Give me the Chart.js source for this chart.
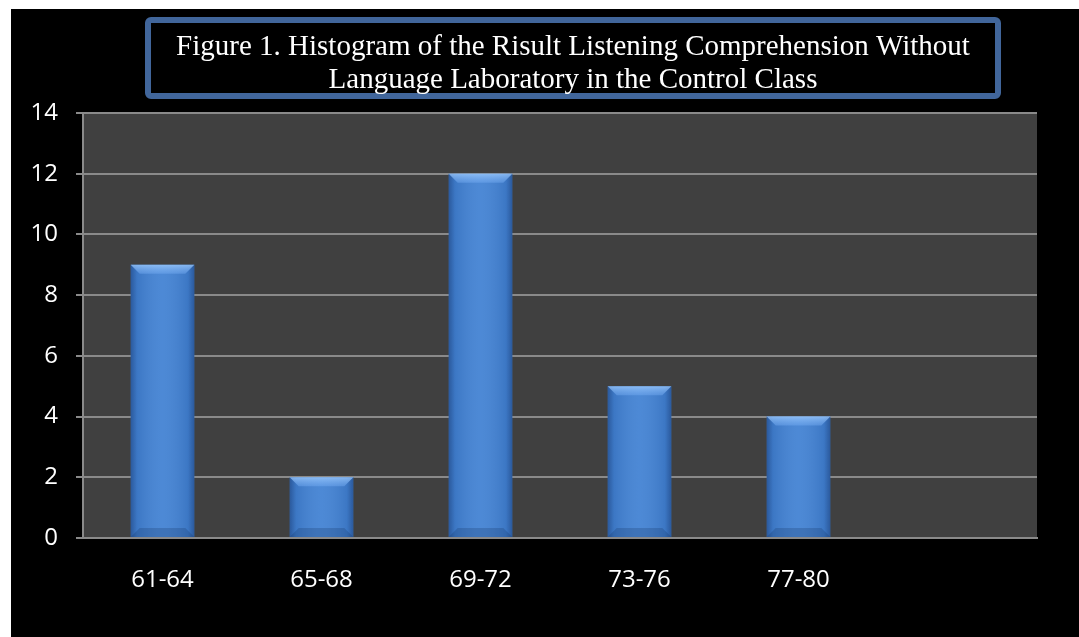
<!DOCTYPE html>
<html>
<head>
<meta charset="utf-8">
<script src="https://cdn.jsdelivr.net/npm/chart.js@4.4.1/dist/chart.umd.min.js"></script>
<style>
  html, body { margin: 0; padding: 0; background: #fff; }
  #wrap { position: absolute; left: 11px; top: 9px; width: 1068px; height: 628px; background: #000; }
</style>
</head>
<body>
<div id="wrap"><canvas id="histChart" width="1068" height="628"></canvas></div>
<script>
const titleLines = [
    'Figure 1. Histogram of the Risult Listening Comprehension Without',
    'Language Laboratory in the Control Class'
];
const scoreRanges = ['61-64', '65-68', '69-72', '73-76', '77-80', ''];
const studentCounts = [9, 2, 12, 5, 4, null];
const yTicks = [0, 2, 4, 6, 8, 10, 12, 14];

const labelFont = { family: '"Open Sans", sans-serif', size: 24 };
const gridGray = '#8a8a8a';

// dark grey plot area behind the bars
const plotBackground = {
    id: 'plotBackground',
    beforeDraw(chart) {
        const { ctx, chartArea } = chart;
        ctx.save();
        ctx.fillStyle = '#404040';
        ctx.fillRect(chartArea.left, chartArea.top, chartArea.right - chartArea.left, chartArea.bottom - chartArea.top);
        ctx.restore();
    }
};

// bevelled look of the bars
const barBevel = {
    id: 'barBevel',
    afterDatasetsDraw(chart) {
        const ctx = chart.ctx;
        chart.getDatasetMeta(0).data.forEach(bar => {
            const { x, y, base, width } = bar.getProps(['x', 'y', 'base', 'width'], true);
            if (!isFinite(y) || base - y < 1) return;
            const l = x - width / 2, r = x + width / 2, t = y, b = base;
            const bv = Math.min(9, (b - t) / 2);
            ctx.save();
            const g = ctx.createLinearGradient(l, 0, r, 0);
            g.addColorStop(0, 'rgba(15,40,90,0.45)');
            g.addColorStop(0.1, 'rgba(15,40,90,0.12)');
            g.addColorStop(0.5, 'rgba(255,255,255,0.06)');
            g.addColorStop(0.9, 'rgba(15,40,90,0.12)');
            g.addColorStop(1, 'rgba(15,40,90,0.45)');
            ctx.fillStyle = g;
            ctx.fillRect(l, t, width, b - t);

            ctx.beginPath();
            ctx.moveTo(l, t); ctx.lineTo(r, t); ctx.lineTo(r - bv, t + bv); ctx.lineTo(l + bv, t + bv);
            ctx.closePath();
            const tg = ctx.createLinearGradient(0, t, 0, t + bv);
            tg.addColorStop(0, 'rgba(160,205,255,0.75)');
            tg.addColorStop(1, 'rgba(120,175,245,0.4)');
            ctx.fillStyle = tg;
            ctx.fill();

            ctx.beginPath();
            ctx.moveTo(l, b); ctx.lineTo(r, b); ctx.lineTo(r - bv, b - bv); ctx.lineTo(l + bv, b - bv);
            ctx.closePath();
            ctx.fillStyle = 'rgba(20,50,100,0.25)';
            ctx.fill();
            ctx.restore();
        });
    }
};

// framed title at the top
const titleBox = {
    id: 'titleBox',
    afterDraw(chart) {
        const ctx = chart.ctx;
        ctx.save();
        ctx.strokeStyle = '#41669b';
        ctx.lineWidth = 6;
        ctx.beginPath();
        ctx.roundRect(137, 11, 850, 76, 3);
        ctx.stroke();
        ctx.fillStyle = '#fff';
        ctx.font = '29px "Liberation Serif", "Times New Roman", serif';
        ctx.textAlign = 'center';
        ctx.textBaseline = 'alphabetic';
        ctx.fillText(titleLines[0], 562, 46);
        ctx.fillText(titleLines[1], 562, 79);
        ctx.restore();
    }
};

new Chart(document.getElementById('histChart'), {
    type: 'bar',
    data: {
        labels: scoreRanges,
        datasets: [{
            data: studentCounts,
            backgroundColor: '#4282d3',
            barPercentage: 0.4,
            categoryPercentage: 1.0
        }]
    },
    options: {
        responsive: false,
        animation: false,
        devicePixelRatio: 1,
        layout: { padding: { top: 104, right: 42, left: 0, bottom: 0 } },
        plugins: { legend: { display: false }, tooltip: { enabled: false }, title: { display: false } },
        scales: {
            x: {
                grid: { display: false },
                border: { display: true, color: gridGray, width: 2 },
                ticks: { color: '#fff', font: labelFont, padding: 20 },
                afterFit(scale) { scale.height = 99; }
            },
            y: {
                min: 0,
                max: 14,
                afterBuildTicks(scale) { scale.ticks = yTicks.map(v => ({ value: v })); },
                grid: { color: gridGray, lineWidth: 2, tickLength: 7, drawTicks: true },
                border: { display: true, color: gridGray, width: 2 },
                ticks: { color: '#fff', font: labelFont, padding: 18 },
                afterFit(scale) { scale.width = 72; }
            }
        }
    },
    plugins: [plotBackground, barBevel, titleBox]
});
</script>
</body>
</html>
